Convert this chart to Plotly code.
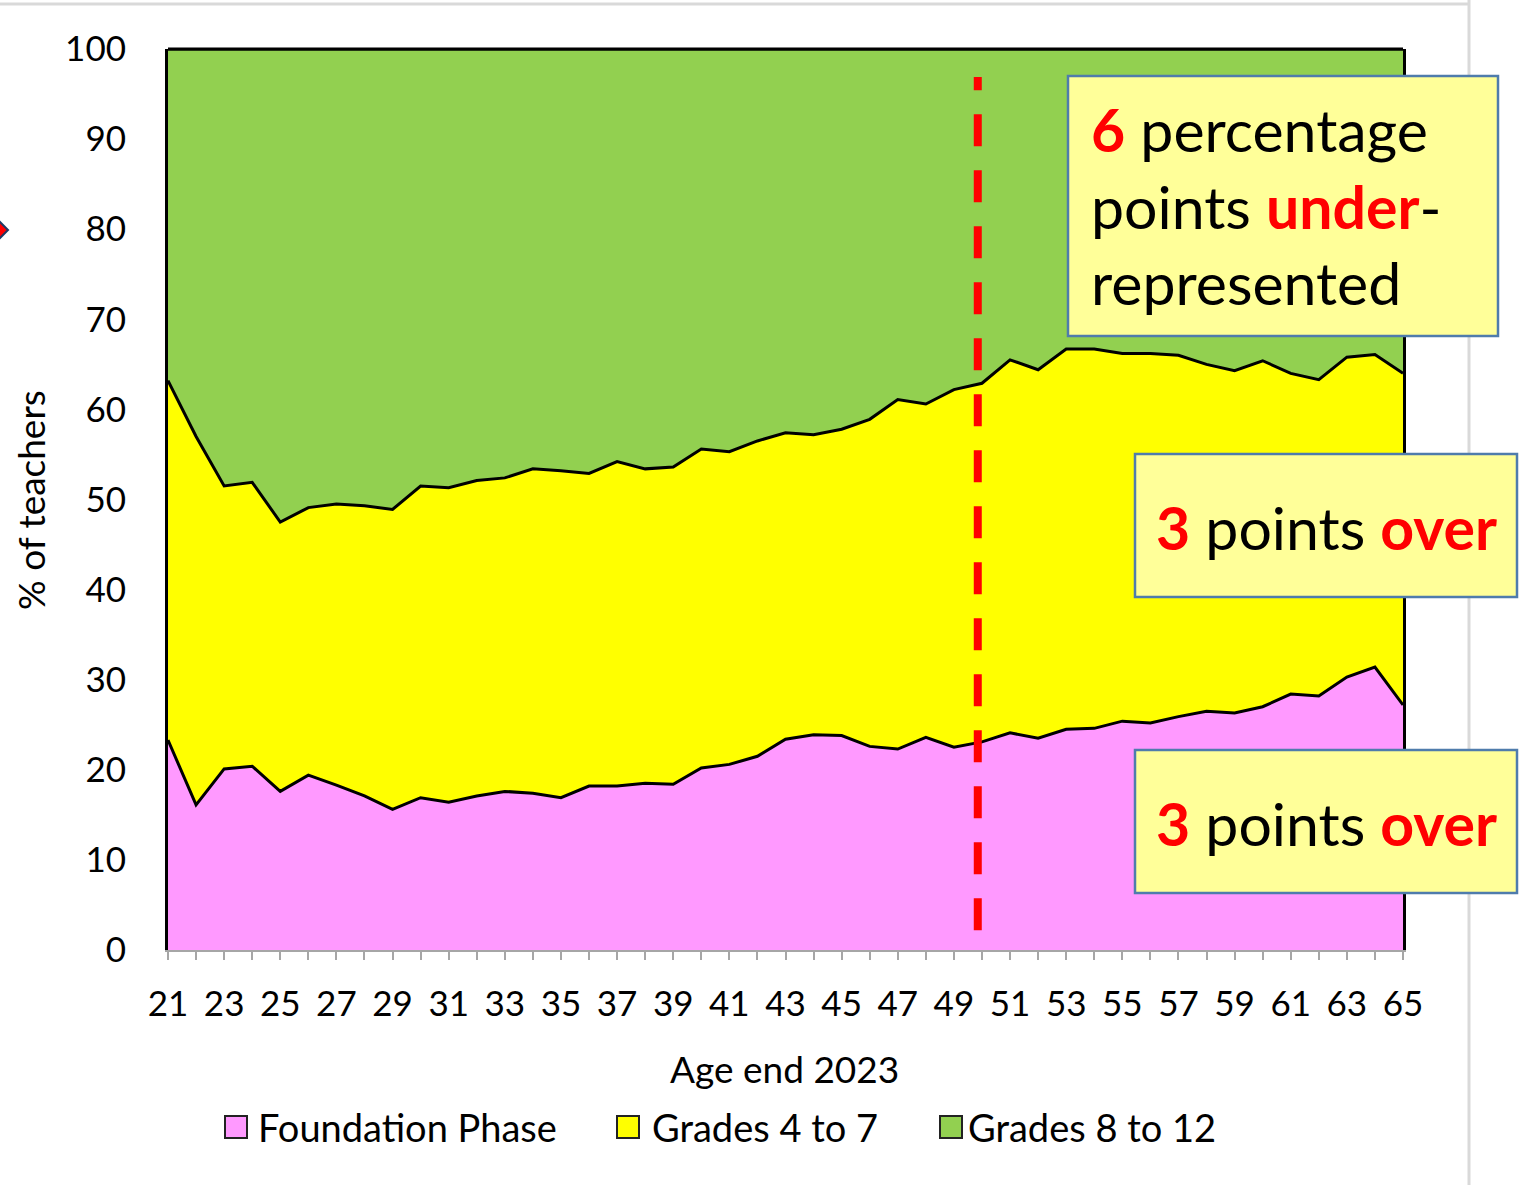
import plotly.graph_objects as go

ages = list(range(21, 66))
foundation_phase = [23.3, 16.1, 20.1, 20.4, 17.6, 19.4, 18.3, 17.1, 15.6, 16.9,
                    16.4, 17.1, 17.6, 17.4, 16.9, 18.2, 18.2, 18.5, 18.4, 20.2,
                    20.6, 21.5, 23.4, 23.9, 23.8, 22.6, 22.3, 23.6, 22.5, 23.1,
                    24.1, 23.5, 24.5, 24.6, 25.4, 25.2, 25.9, 26.5, 26.3, 27.0,
                    28.4, 28.2, 30.3, 31.4, 27.2]
grades_4_7 = [39.9, 40.9, 31.4, 31.5, 29.9, 29.7, 31.2, 32.2, 33.3, 34.6,
              34.9, 35.0, 34.8, 36.0, 36.3, 34.7, 36.0, 34.9, 35.2, 35.4,
              34.7, 35.0, 34.0, 33.3, 34.0, 36.3, 38.8, 37.0, 39.7, 39.8,
              41.4, 40.9, 42.2, 42.1, 40.8, 41.0, 40.1, 38.5, 38.0, 38.4,
              35.6, 35.1, 35.5, 34.7, 36.8]
grades_8_12 = [round(100 - a - b, 1) for a, b in zip(foundation_phase, grades_4_7)]
x_tick_vals = list(range(21, 66, 2))
y_tick_vals = list(range(0, 101, 10))
cutoff_age = 49.85
cutoff_range = [2.2, 96.9]

FONT = "Lato"
W, H = 1522, 1185
L, R, T, B = 168, 119, 49, 235
PW, PH = W - L - R, H - T - B


def px(xp):
    return (xp - L) / PW


def py(yp):
    return (H - B - yp) / PH


fig = go.Figure()
series = [("Foundation Phase", foundation_phase, "#FF99FF"),
          ("Grades 4 to 7", grades_4_7, "#FFFF00"),
          ("Grades 8 to 12", grades_8_12, "#92D050")]
for name, vals, col in series:
    fig.add_trace(go.Scatter(x=ages, y=vals, name=name, stackgroup="one",
                             mode="lines", fillcolor=col,
                             line=dict(color="black", width=3),
                             showlegend=False, hoverinfo="x+y+name"))

shapes = []
# slide borders (drawn first so boxes cover them)
shapes.append(dict(type="line", xref="paper", yref="paper", x0=px(0), x1=px(1470),
                   y0=py(4), y1=py(4), line=dict(color="#D9D9D9", width=3)))
shapes.append(dict(type="line", xref="paper", yref="paper", x0=px(1469), x1=px(1469),
                   y0=py(0), y1=py(H), line=dict(color="#D9D9D9", width=3)))
shapes.append(dict(type="line", xref="paper", yref="paper", x0=0, x1=1, y0=1, y1=1,
                   line=dict(color="black", width=3)))
shapes.append(dict(type="line", xref="x", yref="y", x0=cutoff_age, x1=cutoff_age,
                   y0=cutoff_range[0], y1=cutoff_range[1],
                   line=dict(color="#FF0000", width=8, dash="32px,24px")))
boxes = [(1068, 1498, 76, 336), (1135, 1517, 454, 597), (1135, 1517, 750, 893)]
for x0, x1, y0, y1 in boxes:
    shapes.append(dict(type="rect", xref="paper", yref="paper",
                       x0=px(x0), x1=px(x1), y0=py(y1), y1=py(y0),
                       fillcolor="#FFFF99", line=dict(color="#4F7CAC", width=2.5)))
shapes.append(dict(type="path", xref="paper", yref="paper",
                   path=f"M {px(-10)},{py(230)} L {px(-1)},{py(221)} L {px(8)},{py(230)} L {px(-1)},{py(239)} Z",
                   fillcolor="#FF0000", line=dict(color="#1F3864", width=2)))
legend_items = [(225, 258, "Foundation Phase", "#FF99FF"),
                (617, 652, "Grades 4 to 7", "#FFFF00"),
                (940, 968, "Grades 8 to 12", "#92D050")]
annotations = []
for sx, tx, label, col in legend_items:
    shapes.append(dict(type="rect", xref="paper", yref="paper",
                       x0=px(sx), x1=px(sx + 22), y0=py(1138), y1=py(1116),
                       fillcolor=col, line=dict(color="#222222", width=2)))
    annotations.append(dict(xref="paper", yref="paper", x=px(tx - 2), y=py(1127),
                            xanchor="left", yanchor="middle", text=label,
                            showarrow=False, font=dict(family=FONT, size=38, color="black")))

R_ = "color:#FF0000"
annotations.append(dict(xref="paper", yref="paper", x=px(1089), y=py(206),
                        xanchor="left", yanchor="middle", align="left", showarrow=False,
                        text=f"<b><span style='{R_}'>6</span></b> percentage<br>points <b><span style='{R_}'>under</span></b>-<br>represented",
                        font=dict(family=FONT, size=59, color="black")))
for cy in (527, 823):
    annotations.append(dict(xref="paper", yref="paper", x=px(1326), y=py(cy),
                            xanchor="center", yanchor="middle", showarrow=False,
                            text=f"<b><span style='{R_}'>3</span></b> points <b><span style='{R_}'>over</span></b>",
                            font=dict(family=FONT, size=59, color="black")))
annotations.append(dict(xref="paper", yref="paper", x=px(30), y=py(500),
                        xanchor="center", yanchor="middle", textangle=-90, showarrow=False,
                        text="% of teachers", font=dict(family=FONT, size=37, color="black")))
annotations.append(dict(xref="paper", yref="paper", x=px(784), y=py(1068),
                        xanchor="center", yanchor="middle", showarrow=False,
                        text="Age end 2023", font=dict(family=FONT, size=37, color="black")))

fig.update_layout(
    width=W, height=H, margin=dict(l=L, r=R, t=T, b=B),
    paper_bgcolor="white", plot_bgcolor="white",
    font=dict(family=FONT, size=34, color="black"),
    shapes=shapes, annotations=annotations, showlegend=False,
    xaxis=dict(range=[21, 65], tickvals=x_tick_vals, ticks="outside", ticklen=8,
               tickcolor="#A6A6A6", tickwidth=2, showgrid=False, zeroline=False,
               showline=True, linecolor="#A6A6A6", linewidth=2,
               tickfont=dict(family=FONT, size=35), ticklabelstandoff=14,
               minor=dict(dtick=1, ticks="outside", ticklen=8, tickcolor="#A6A6A6", tickwidth=2)),
    yaxis=dict(range=[0, 100], tickvals=y_tick_vals, ticks="", showgrid=False,
               zeroline=False, showline=True, linecolor="black", linewidth=3, mirror=True,
               tickfont=dict(family=FONT, size=35), ticklabelstandoff=32),
)

fig.write_html("out.html", config={"displayModeBar": False},
               post_script="document.body.style.margin='0';document.body.style.overflow='hidden';")
